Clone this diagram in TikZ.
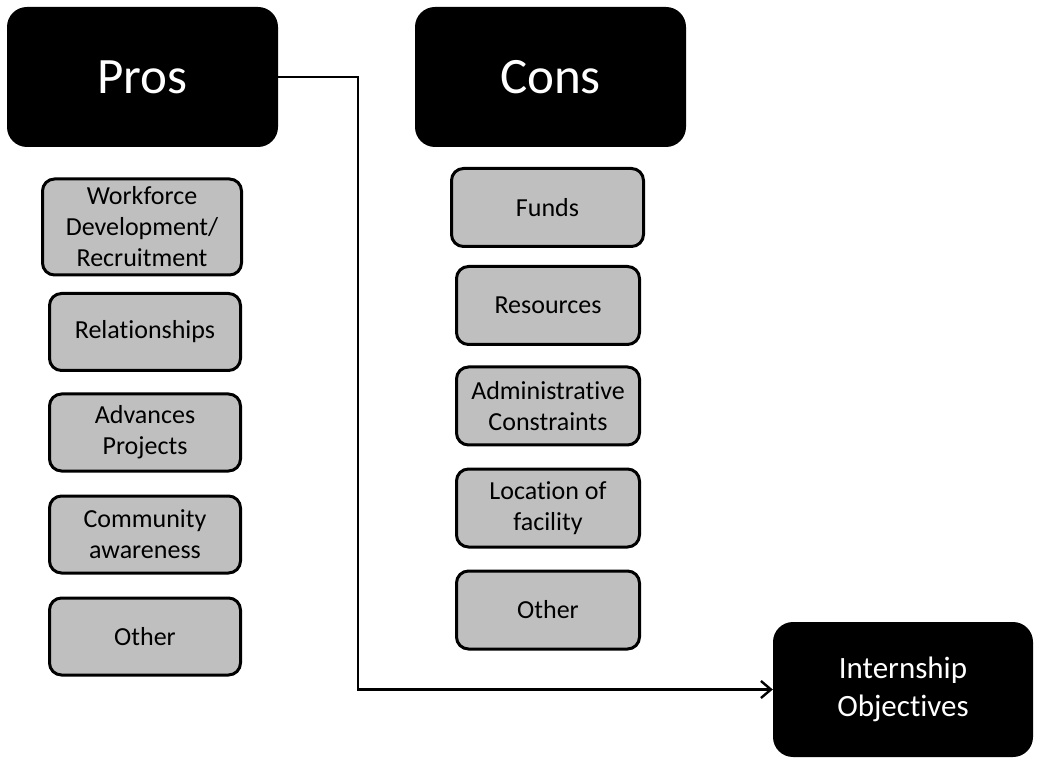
\documentclass[tikz,border=0pt]{standalone}
\usepackage{fontspec}
\setmainfont{Carlito}[Ligatures=NoCommon]
\usetikzlibrary{arrows.meta}
\definecolor{itemgray}{HTML}{BFBFBF}
\begin{document}
\begin{tikzpicture}[x=1pt,y=-1pt,
  headbox/.style={fill=black,text=white,rounded corners=20pt,inner sep=0pt,align=center},
  itembox/.style={draw=black,line width=3pt,fill=itemgray,rounded corners=12pt,inner sep=0pt,
    align=center,font=\fontsize{26}{31}\selectfont},
  link/.style={line width=2.4pt,-{Straight Barb[length=10pt,width=17pt,line width=2.4pt]}}]
\useasboundingbox (0,0) rectangle (1037,759);

% column headers
\node[headbox,minimum width=271pt,minimum height=140pt,font=\fontsize{51}{60}\selectfont]
  (pros) at (142.5,77) {Pros};
\node[headbox,minimum width=271pt,minimum height=140pt,font=\fontsize{51}{60}\selectfont]
  (cons) at (550.5,77) {Cons};

% pros items
\node[itembox,minimum width=199pt,minimum height=96pt] (workforce) at (142,227)
  {Workforce\\Development/\\Recruitment};
\node[itembox,minimum width=191pt,minimum height=77pt] (relations) at (145,332) {Relationships};
\node[itembox,minimum width=191pt,minimum height=77pt] (advances) at (145,432.5) {Advances\\Projects};
\node[itembox,minimum width=191pt,minimum height=77pt] (community) at (145,534.5) {Community\\awareness};
\node[itembox,minimum width=191pt,minimum height=77pt] (prosother) at (145,636.5) {Other};

% cons items
\node[itembox,minimum width=192pt,minimum height=78pt] (funds) at (547.5,207.5) {Funds};
\node[itembox,minimum width=183pt,minimum height=78pt] (resources) at (548,305.5) {Resources};
\node[itembox,minimum width=183pt,minimum height=78pt] (admin) at (548,406) {Administrative\\Constraints};
\node[itembox,minimum width=183pt,minimum height=78pt] (location) at (548,508) {Location of\\facility};
\node[itembox,minimum width=183pt,minimum height=78pt] (consother) at (548,610) {Other};

% goal
\node[headbox,minimum width=260pt,minimum height=135pt,font=\fontsize{31}{38}\selectfont]
  (intern) at (903,689.5) {Internship\\Objectives};

% connector from pros to the goal
\coordinate (bend) at (358,689.5);
\draw[link] (pros.east) -| (bend) -- (intern.west);
\end{tikzpicture}
\end{document}
